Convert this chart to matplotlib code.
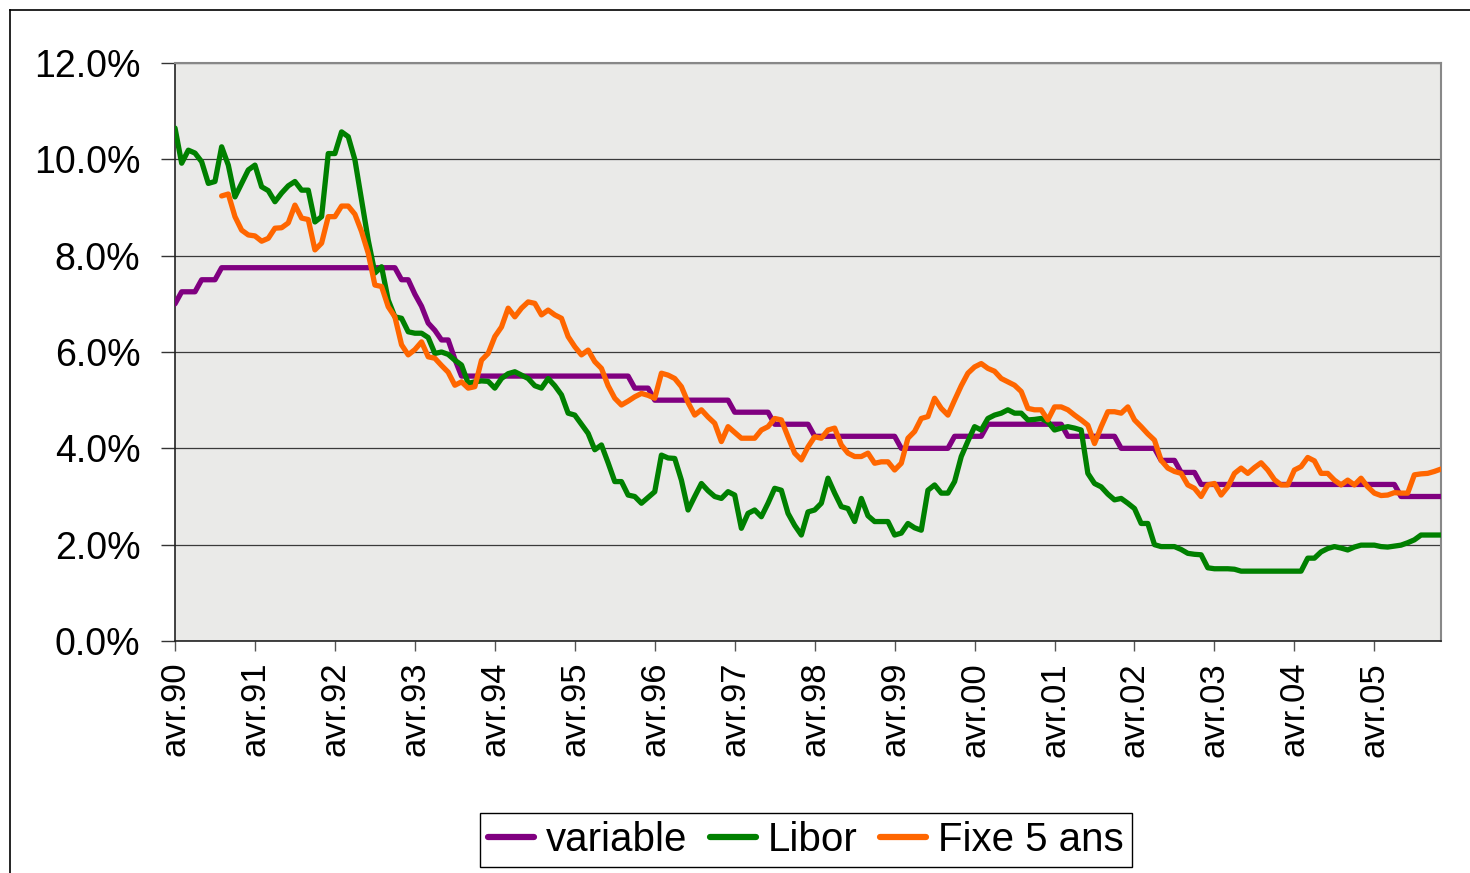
import numpy as np
import matplotlib
matplotlib.use("Agg")
import matplotlib.pyplot as plt
from matplotlib import font_manager
from matplotlib.ticker import FuncFormatter, FixedLocator
from matplotlib.lines import Line2D

nan = np.nan

# ---- data (monthly, starting avr.90) ----
tick_labels = ["avr.90", "avr.91", "avr.92", "avr.93", "avr.94", "avr.95", "avr.96", "avr.97",
               "avr.98", "avr.99", "avr.00", "avr.01", "avr.02", "avr.03", "avr.04", "avr.05"]

variable = [
    7.0, 7.25, 7.25, 7.25, 7.5, 7.5, 7.5, 7.75, 7.75, 7.75, 7.75, 7.75,
    7.75, 7.75, 7.75, 7.75, 7.75, 7.75, 7.75, 7.75, 7.75, 7.75, 7.75, 7.75,
    7.75, 7.75, 7.75, 7.75, 7.75, 7.75, 7.75, 7.75, 7.75, 7.75, 7.5, 7.5,
    7.2, 6.95, 6.6, 6.45, 6.25, 6.25, 5.85, 5.5, 5.5, 5.5, 5.5, 5.5,
    5.5, 5.5, 5.5, 5.5, 5.5, 5.5, 5.5, 5.5, 5.5, 5.5, 5.5, 5.5,
    5.5, 5.5, 5.5, 5.5, 5.5, 5.5, 5.5, 5.5, 5.5, 5.25, 5.25, 5.25,
    5.0, 5.0, 5.0, 5.0, 5.0, 5.0, 5.0, 5.0, 5.0, 5.0, 5.0, 5.0,
    4.75, 4.75, 4.75, 4.75, 4.75, 4.75, 4.5, 4.5, 4.5, 4.5, 4.5, 4.5,
    4.25, 4.25, 4.25, 4.25, 4.25, 4.25, 4.25, 4.25, 4.25, 4.25, 4.25, 4.25,
    4.25, 4.0, 4.0, 4.0, 4.0, 4.0, 4.0, 4.0, 4.0, 4.25, 4.25, 4.25,
    4.25, 4.25, 4.5, 4.5, 4.5, 4.5, 4.5, 4.5, 4.5, 4.5, 4.5, 4.5,
    4.5, 4.5, 4.25, 4.25, 4.25, 4.25, 4.25, 4.25, 4.25, 4.25, 4.0, 4.0,
    4.0, 4.0, 4.0, 4.0, 3.75, 3.75, 3.75, 3.5, 3.5, 3.5, 3.25, 3.25,
    3.25, 3.25, 3.25, 3.25, 3.25, 3.25, 3.25, 3.25, 3.25, 3.25, 3.25, 3.25,
    3.25, 3.25, 3.25, 3.25, 3.25, 3.25, 3.25, 3.25, 3.25, 3.25, 3.25, 3.25,
    3.25, 3.25, 3.25, 3.25, 3.0, 3.0, 3.0, 3.0, 3.0, 3.0, 3.0,
]

libor = [
    10.65, 9.92, 10.19, 10.13, 9.95, 9.5, 9.54, 10.26, 9.88, 9.22, 9.5, 9.78,
    9.88, 9.43, 9.35, 9.12, 9.3, 9.45, 9.54, 9.36, 9.36, 8.70, 8.81, 10.12,
    10.12, 10.57, 10.47, 9.99, 9.16, 8.32, 7.64, 7.77, 7.08, 6.73, 6.7, 6.42,
    6.39, 6.39, 6.3, 5.97, 6.0, 5.95, 5.83, 5.73, 5.35, 5.38, 5.40, 5.39,
    5.25, 5.45, 5.55, 5.59, 5.52, 5.45, 5.3, 5.25, 5.45, 5.3, 5.11, 4.73,
    4.69, 4.5, 4.31, 3.97, 4.07, 3.7, 3.31, 3.31, 3.03, 3.0, 2.86, 2.98,
    3.1, 3.86, 3.8, 3.79, 3.34, 2.72, 3.0, 3.27, 3.12, 3.0, 2.96, 3.1,
    3.03, 2.34, 2.65, 2.72, 2.58, 2.86, 3.17, 3.13, 2.65, 2.4, 2.2, 2.68,
    2.72, 2.86, 3.38, 3.07, 2.79, 2.75, 2.48, 2.96, 2.6, 2.48, 2.48, 2.48,
    2.2, 2.24, 2.44, 2.35, 2.3, 3.13, 3.24, 3.07, 3.07, 3.31, 3.83, 4.15,
    4.45, 4.38, 4.62, 4.69, 4.73, 4.8, 4.73, 4.73, 4.59, 4.6, 4.62, 4.55,
    4.38, 4.42, 4.45, 4.42, 4.38, 3.48, 3.27, 3.2, 3.05, 2.93, 2.96, 2.86,
    2.75, 2.44, 2.44, 2.0, 1.96, 1.96, 1.96, 1.9, 1.82, 1.8, 1.79, 1.52,
    1.5, 1.5, 1.5, 1.49, 1.45, 1.45, 1.45, 1.45, 1.45, 1.45, 1.45, 1.45,
    1.45, 1.45, 1.72, 1.72, 1.85, 1.92, 1.96, 1.93, 1.89, 1.95, 1.99, 1.99,
    1.99, 1.96, 1.95, 1.97, 1.99, 2.04, 2.1, 2.2, 2.2, 2.2, 2.2,
]

fixe5 = [
    nan, nan, nan, nan, nan, nan, nan, 9.24, 9.28, 8.81, 8.53, 8.43,
    8.41, 8.3, 8.36, 8.57, 8.58, 8.68, 9.05, 8.78, 8.75, 8.12, 8.26, 8.81,
    8.81, 9.03, 9.03, 8.86, 8.5, 8.05, 7.39, 7.36, 6.94, 6.73, 6.15, 5.94,
    6.05, 6.21, 5.9, 5.87, 5.72, 5.58, 5.31, 5.38, 5.25, 5.28, 5.83, 5.97,
    6.32, 6.52, 6.91, 6.73, 6.91, 7.04, 7.01, 6.77, 6.87, 6.77, 6.7, 6.32,
    6.11, 5.94, 6.04, 5.8, 5.66, 5.3, 5.04, 4.9, 4.98, 5.07, 5.14, 5.1,
    5.04, 5.56, 5.52, 5.45, 5.28, 4.95, 4.69, 4.8, 4.65, 4.52, 4.14, 4.45,
    4.33, 4.21, 4.21, 4.21, 4.38, 4.45, 4.62, 4.59, 4.24, 3.9, 3.76, 4.03,
    4.24, 4.21, 4.38, 4.42, 4.07, 3.9, 3.83, 3.83, 3.9, 3.69, 3.72, 3.72,
    3.55, 3.69, 4.21, 4.35, 4.62, 4.66, 5.04, 4.83, 4.69, 5.0, 5.3, 5.56,
    5.69, 5.76, 5.66, 5.6, 5.45, 5.38, 5.31, 5.18, 4.83, 4.8, 4.8, 4.59,
    4.86, 4.86, 4.8, 4.69, 4.59, 4.48, 4.1, 4.45, 4.76, 4.76, 4.73, 4.86,
    4.59, 4.45, 4.3, 4.17, 3.75, 3.59, 3.52, 3.48, 3.24, 3.17, 3.0, 3.24,
    3.27, 3.03, 3.2, 3.48, 3.59, 3.48, 3.6, 3.70, 3.55, 3.35, 3.24, 3.24,
    3.55, 3.62, 3.81, 3.74, 3.48, 3.48, 3.34, 3.24, 3.34, 3.24, 3.38, 3.2,
    3.07, 3.02, 3.03, 3.08, 3.07, 3.07, 3.45, 3.47, 3.48, 3.52, 3.57,
]

series_names = ["variable", "Libor", "Fixe 5 ans"]
series_colors = ["#800080", "#008000", "#FF6600"]

# ---- fonts ----
available = {f.name for f in font_manager.fontManager.ttflist}
base_font = "Liberation Sans" if "Liberation Sans" in available else "DejaVu Sans"
plt.rcParams["font.family"] = [base_font, "DejaVu Sans"]

W, H = 1470, 873
fig = plt.figure(figsize=(W / 100, H / 100), dpi=100)
fig.patch.set_facecolor("white")

# outer frame (left and top edges visible)
fig.add_artist(Line2D([10 / W, 10 / W], [0, 1 - 10 / H], transform=fig.transFigure,
                      color="black", linewidth=1.2))
fig.add_artist(Line2D([10 / W, 1.0], [1 - 10 / H, 1 - 10 / H], transform=fig.transFigure,
                      color="black", linewidth=1.2))

left, right, top, bottom = 175, 1441, 63, 641
ax = fig.add_axes([left / W, 1 - bottom / H, (right - left) / W, (bottom - top) / H])
ax.set_facecolor("#eaeae8")

x = np.arange(len(libor))
for vals, name, col in zip([variable, libor, fixe5], series_names, series_colors):
    ax.plot(x, vals, color=col, linewidth=3.8, label=name, solid_joinstyle="round",
            solid_capstyle="round", zorder=3)

ax.set_xlim(0, len(libor) - 1)
ax.set_ylim(0, 12)
ax.yaxis.set_major_locator(FixedLocator([0, 2, 4, 6, 8, 10, 12]))
ax.yaxis.set_major_formatter(FuncFormatter(lambda v, p: f"{v:.1f}%"))
ax.grid(axis="y", color="#3a3a3a", linewidth=0.9, zorder=1)
ax.set_axisbelow(True)

tick_pos = np.arange(0, 12 * len(tick_labels), 12)
ax.set_xticks(tick_pos)
ax.set_xticklabels(tick_labels, rotation=90, fontsize=25)
ax.tick_params(axis="x", direction="out", length=7, width=1, color="#555555", pad=8)
ax.tick_params(axis="y", direction="out", length=10, width=1, color="#333333", pad=15,
               labelsize=27)

for s in ["top", "right"]:
    ax.spines[s].set_color("#888888")
    ax.spines[s].set_linewidth(1.5)
ax.spines["left"].set_color("#222222")
ax.spines["bottom"].set_color("#222222")
ax.spines["left"].set_linewidth(1.2)
ax.spines["bottom"].set_linewidth(1.2)

leg = fig.legend(loc="center", bbox_to_anchor=(806 / W, 1 - 840 / H), ncol=3,
                 frameon=True, fancybox=False, edgecolor="black", framealpha=1,
                 prop={"size": 29}, handlelength=1.15,
                 handletextpad=0.3, columnspacing=0.55, borderpad=0.2,
                 borderaxespad=0)
leg.get_frame().set_linewidth(1.0)
for lh in leg.get_lines():
    lh.set_linewidth(4.5)

fig.savefig("out.png", dpi=100)
